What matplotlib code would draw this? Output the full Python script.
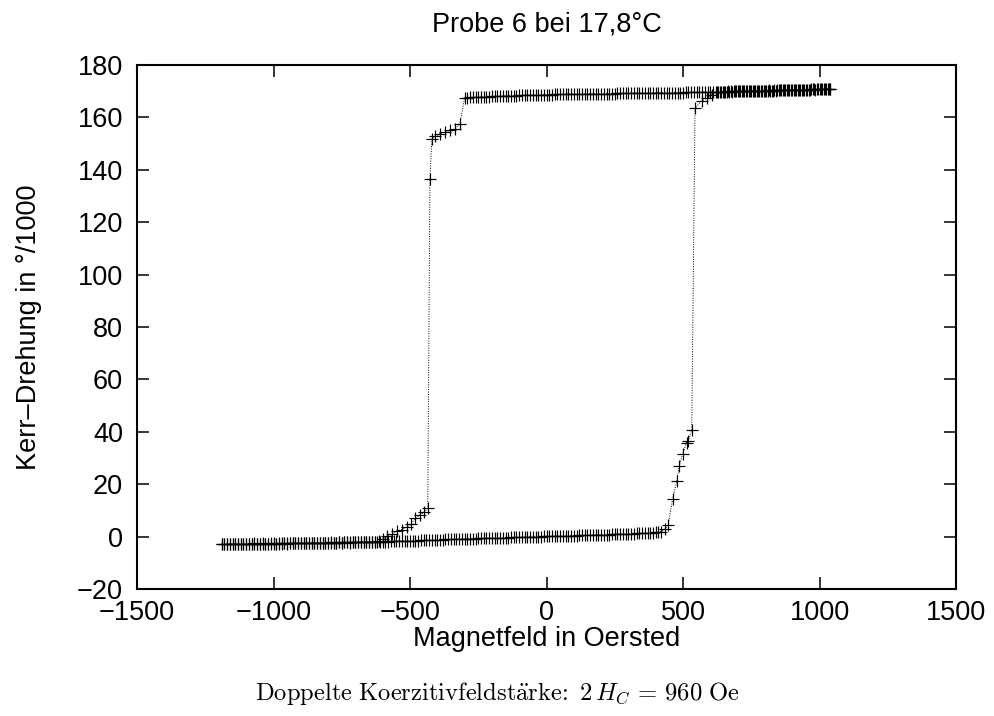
import matplotlib
matplotlib.use('Agg')
import numpy as np
import matplotlib.pyplot as plt

plt.rcParams['font.family'] = ['Liberation Sans', 'DejaVu Sans']
plt.rcParams['mathtext.fontset'] = 'cm'

# ascending field sweep (Oe) and Kerr rotation (1/1000 deg)
h_rise = [-1190, -1180, -1170, -1160, -1150, -1140, -1130, -1120, -1110, -1100,
          -1090, -1080, -1070, -1060, -1050, -1040, -1030, -1020, -1010, -1000,
          -990, -980, -970, -960, -950, -940, -930, -920, -910, -900,
          -890, -880, -870, -860, -850, -840, -830, -820, -810, -800,
          -790, -780, -770, -760, -750, -740, -730, -720, -710, -700,
          -690, -680, -670, -660, -650, -640, -630, -620, -610, -600,
          -590, -580, -570, -560, -550, -540, -530, -520, -510, -500,
          -490, -480, -470, -460, -450, -440, -430, -420, -410, -400,
          -390, -380, -370, -360, -350, -340, -330, -320, -310, -300,
          -290, -280, -270, -260, -250, -240, -230, -220, -210, -200,
          -190, -180, -170, -160, -150, -140, -130, -120, -110, -100,
          -90, -80, -70, -60, -50, -40, -30, -20, -10, 0,
          10, 20, 30, 40, 50, 60, 70, 80, 90, 100,
          110, 120, 130, 140, 150, 160, 170, 180, 190, 200,
          210, 220, 230, 240, 250, 260, 270, 280, 290, 300,
          310, 320, 330, 340, 350, 360, 370, 380, 390, 400,
          410, 420,
          434, 446, 462, 477, 486, 499, 513, 519, 532,
          544, 568, 587, 605, 623,
          635, 645, 655, 665, 675, 685, 695, 705, 715, 725,
          735, 745, 755, 765, 775, 785, 795, 805, 815, 825,
          835, 845, 855, 865, 875, 885, 895, 905, 915, 925,
          935, 945, 955, 965, 975, 985, 995, 1005, 1015, 1025,
          1035, 1040]
kerr_rise = [-2.8, -2.9, -2.8, -2.7, -2.8, -2.9, -2.7, -2.8, -2.8, -2.7,
             -2.8, -2.7, -2.6, -2.8, -2.7, -2.6, -2.7, -2.7, -2.6, -2.5,
             -2.7, -2.6, -2.5, -2.6, -2.6, -2.5, -2.4, -2.6, -2.5, -2.4,
             -2.5, -2.4, -2.6, -2.4, -2.3, -2.5, -2.4, -2.3, -2.4, -2.3,
             -2.2, -2.4, -2.3, -2.2, -2.3, -2.2, -2.1, -2.3, -2.2, -2.1,
             -2.2, -2.1, -2.0, -2.2, -2.1, -2.0, -2.1, -2.0, -1.9, -2.0,
             -1.9, -1.9, -1.8, -1.8, -1.8, -1.7, -1.7, -1.6, -1.6, -1.6,
             -1.5, -1.5, -1.5, -1.4, -1.4, -1.4, -1.3, -1.3, -1.3, -1.2,
             -1.2, -1.2, -1.1, -1.1, -1.1, -1.0, -1.0, -1.0, -0.9, -0.9,
             -0.9, -0.8, -0.8, -0.8, -0.7, -0.7, -0.7, -0.6, -0.6, -0.6,
             -0.5, -0.5, -0.5, -0.4, -0.4, -0.4, -0.3, -0.3, -0.3, -0.2,
             -0.2, -0.2, -0.1, -0.1, -0.1, 0.0, 0.0, 0.0, 0.1, 0.1,
             0.1, 0.1, 0.2, 0.2, 0.2, 0.3, 0.3, 0.3, 0.4, 0.4,
             0.4, 0.5, 0.5, 0.5, 0.6, 0.6, 0.6, 0.7, 0.7, 0.7,
             0.8, 0.8, 0.8, 0.9, 0.9, 0.9, 1.0, 1.0, 1.0, 1.1,
             1.1, 1.1, 1.2, 1.2, 1.3, 1.3, 1.4, 1.4, 1.5, 1.6,
             1.7, 1.9,
             2.9, 4.6, 14.4, 21.1, 26.8, 31.7, 35.8, 36.4, 40.6,
             163.6, 166.2, 167.5, 168.7, 169.6,
             169.7, 169.8, 169.8, 169.9, 169.9, 169.9, 170.0, 170.0, 170.0, 170.0,
             170.1, 170.0, 170.1, 170.1, 170.2, 170.1, 170.2, 170.2, 170.3, 170.2,
             170.3, 170.3, 170.4, 170.3, 170.4, 170.4, 170.5, 170.4, 170.5, 170.5,
             170.6, 170.5, 170.6, 170.6, 170.7, 170.6, 170.7, 170.7, 170.8, 170.8,
             170.9, 170.9]

# descending field sweep
h_fall = [1040, 1030, 1020, 1010, 1000, 990, 980, 970, 960, 950,
          940, 930, 920, 910, 900, 890, 880, 870, 860, 850,
          840, 830, 820, 810, 800, 790, 780, 770, 760, 750,
          740, 730, 720, 710, 700, 690, 680, 670, 660, 650,
          640, 630, 620, 610, 600, 590, 580, 570, 560, 550,
          540, 530, 520, 510, 500, 490, 480, 470, 460, 450,
          440, 430, 420, 410, 400, 390, 380, 370, 360, 350,
          340, 330, 320, 310, 300, 290, 280, 270, 260, 250,
          240, 230, 220, 210, 200, 190, 180, 170, 160, 150,
          140, 130, 120, 110, 100, 90, 80, 70, 60, 50,
          40, 30, 20, 10, 0, -10, -20, -30, -40, -50,
          -60, -70, -80, -90, -100, -110, -120, -130, -140, -150,
          -160, -170, -180, -190, -200, -210, -220, -230, -240, -250,
          -260, -270, -280, -290, -300,
          -317, -335, -354, -372, -390, -408, -420, -427,
          -435, -450, -464, -482, -495, -512, -530, -548, -565, -583, -600, -615,
          -630, -640, -650, -660, -670, -680, -690, -700, -710, -720,
          -730, -740, -750, -760, -770, -780, -790, -800, -810, -820,
          -830, -840, -850, -860, -870, -880, -890, -900, -910, -920,
          -930, -940, -950, -960, -970, -980, -990, -1000, -1010, -1020,
          -1030, -1040, -1050, -1060, -1070, -1080, -1090, -1100, -1110, -1120,
          -1130, -1140, -1150, -1160, -1170, -1180, -1190]
kerr_fall = [170.9, 170.9, 170.8, 170.8, 170.8, 170.7, 170.7, 170.7, 170.6, 170.6,
             170.6, 170.5, 170.5, 170.5, 170.4, 170.4, 170.4, 170.3, 170.3, 170.3,
             170.2, 170.2, 170.2, 170.1, 170.1, 170.1, 170.1, 170.0, 170.0, 170.0,
             170.0, 169.9, 169.9, 169.9, 169.9, 169.9, 169.8, 169.8, 169.8, 169.8,
             169.8, 169.8, 169.7, 169.7, 169.7, 169.7, 169.7, 169.6, 169.6, 169.6,
             169.6, 169.6, 169.6, 169.6, 169.5, 169.5, 169.5, 169.5, 169.5, 169.5,
             169.4, 169.4, 169.4, 169.4, 169.4, 169.4, 169.3, 169.3, 169.3, 169.3,
             169.3, 169.3, 169.3, 169.2, 169.2, 169.2, 169.2, 169.2, 169.2, 169.1,
             169.1, 169.1, 169.1, 169.1, 169.1, 169.0, 169.0, 169.0, 169.0, 169.0,
             169.0, 169.0, 168.9, 168.9, 168.9, 168.9, 168.9, 168.8, 168.8, 168.8,
             168.8, 168.8, 168.7, 168.7, 168.7, 168.7, 168.6, 168.6, 168.6, 168.6,
             168.5, 168.5, 168.5, 168.4, 168.4, 168.3, 168.3, 168.3, 168.2, 168.2,
             168.2, 168.1, 168.1, 168.0, 168.0, 167.9, 167.9, 167.8, 167.8, 167.7,
             167.7, 167.6, 167.6, 167.5, 167.5,
             157.6, 155.6, 155.1, 154.3, 153.8, 152.8, 151.9, 136.3,
             10.8, 9.2, 8.2, 7.0, 4.8, 3.6, 2.7, 2.0, 1.0, 0.2, -0.9, -1.6,
             -1.9, -2.0, -2.0, -2.1, -2.0, -2.1, -2.1, -2.2, -2.1, -2.2,
             -2.2, -2.2, -2.3, -2.2, -2.3, -2.3, -2.4, -2.3, -2.4, -2.4,
             -2.4, -2.5, -2.4, -2.5, -2.5, -2.5, -2.6, -2.5, -2.6, -2.6,
             -2.6, -2.6, -2.7, -2.6, -2.7, -2.7, -2.7, -2.8, -2.7, -2.8,
             -2.8, -2.8, -2.8, -2.9, -2.8, -2.9, -2.9, -2.8, -2.9, -2.9,
             -3.0, -2.9, -3.0, -2.9, -3.0, -3.0, -3.0]

x_ticks = [-1500, -1000, -500, 0, 500, 1000, 1500]
y_ticks = [-20, 0, 20, 40, 60, 80, 100, 120, 140, 160, 180]

fig = plt.figure(figsize=(9.95, 7.16), dpi=100)
ax = fig.add_axes([137 / 995, 1 - 589 / 716, 819 / 995, 524 / 716])

style = dict(color='black', linestyle=(0, (1, 1.5)), linewidth=0.7,
             marker='+', markersize=8, markeredgewidth=0.85)
ax.plot(h_rise, kerr_rise, **style)
ax.plot(h_fall, kerr_fall, **style)

ax.set_xlim(-1500, 1500)
ax.set_ylim(-20, 180)
ax.set_xticks(x_ticks)
ax.set_yticks(y_ticks)
ax.tick_params(direction='in', length=8.5, width=1.1, top=True, right=True,
               labelsize=19.5)
ax.tick_params(axis='x', pad=8)
ax.tick_params(axis='y', pad=10)
for sp in ax.spines.values():
    sp.set_linewidth(1.5)

ax.set_title('Probe 6 bei 17,8°C', fontsize=19.5, pad=24)
ax.set_xlabel('Magnetfeld in Oersted', fontsize=19.5, labelpad=0)
fig.text(29 / 995, 1 - 327 / 716, 'Kerr\u2013Drehung in °/1000', fontsize=19.5,
         rotation=90, ha='center', va='center')

fig.text(0.5, 1 - 700 / 716,
         r'$\mathrm{Doppelte\ Koerzitivfeldst\ddot{a}rke}\hspace{-0.2}:\ 2\,H_C\,=\,960\ \mathrm{Oe}$',
         fontsize=17.7, ha='center', va='baseline')

fig.savefig('out.png', dpi=100)
